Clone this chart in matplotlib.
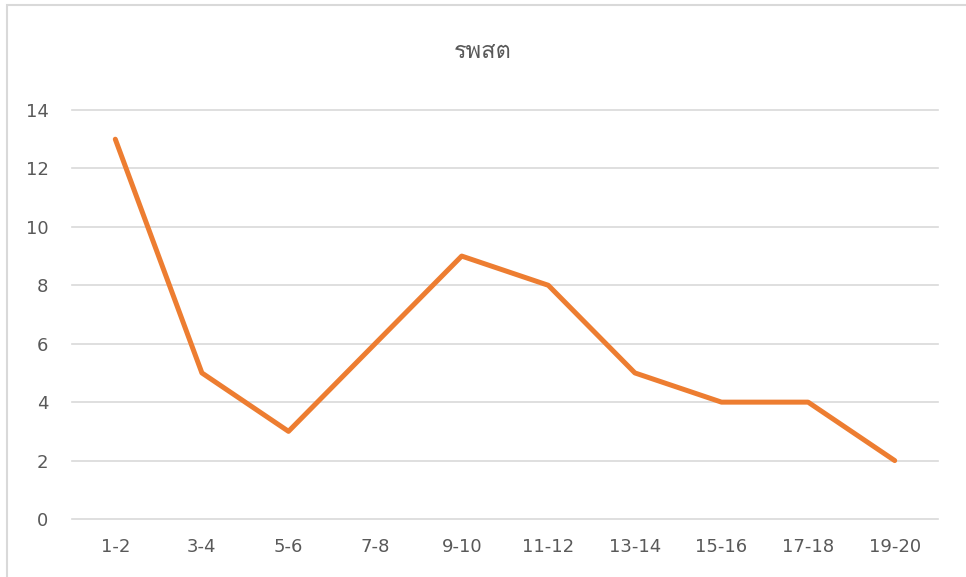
import matplotlib
matplotlib.use("Agg")
import matplotlib.pyplot as plt
from matplotlib import font_manager
from matplotlib.ft2font import FT2Font
from matplotlib.patches import Rectangle

categories = ["1-2", "3-4", "5-6", "7-8", "9-10", "11-12", "13-14", "15-16", "17-18", "19-20"]
values = [13, 5, 3, 6, 9, 8, 5, 4, 4, 2]
title = "รพสต"


def find_thai_font():
    """Look for an installed font that has Thai glyphs."""
    for f in font_manager.fontManager.ttflist:
        try:
            if 0x0E23 in FT2Font(f.fname).get_charmap():
                return f.name
        except Exception:
            continue
    return None


thai = find_thai_font()
families = [thai, "DejaVu Sans"] if thai else ["DejaVu Sans"]

fig = plt.figure(figsize=(9.66, 5.77), dpi=100)
fig.patches.append(Rectangle((7 / 966, -0.1), 1.2, (577 - 5) / 577 + 0.1,
                             transform=fig.transFigure, fill=False,
                             edgecolor="#D9D9D9", linewidth=1.5))
ax = fig.add_axes([72 / 966, 1 - 519 / 577, (938 - 72) / 966, (519 - 110) / 577])

x = range(len(categories))
ax.plot(x, values, color="#ED7D31", linewidth=3.6, solid_capstyle="round", zorder=3)

ax.set_xlim(-0.5, len(categories) - 0.5)
ax.set_ylim(0, 14)
ax.set_yticks(range(0, 15, 2))
ax.set_xticks(list(x))
ax.set_xticklabels(categories)
ax.grid(axis="y", color="#D9D9D9", linewidth=1.2)
for gl in ax.get_ygridlines():
    gl.set_clip_on(False)
ax.set_axisbelow(True)
for s in ax.spines.values():
    s.set_visible(False)
ax.tick_params(length=0, labelsize=13, labelcolor="#595959")
ax.tick_params(axis="y", pad=17)
ax.tick_params(axis="x", pad=14)

fig.text(483 / 966, 1 - 52 / 577, title, ha="center", va="center",
         fontsize=17, color="#595959", family=families)

fig.savefig("out.png", dpi=100)
